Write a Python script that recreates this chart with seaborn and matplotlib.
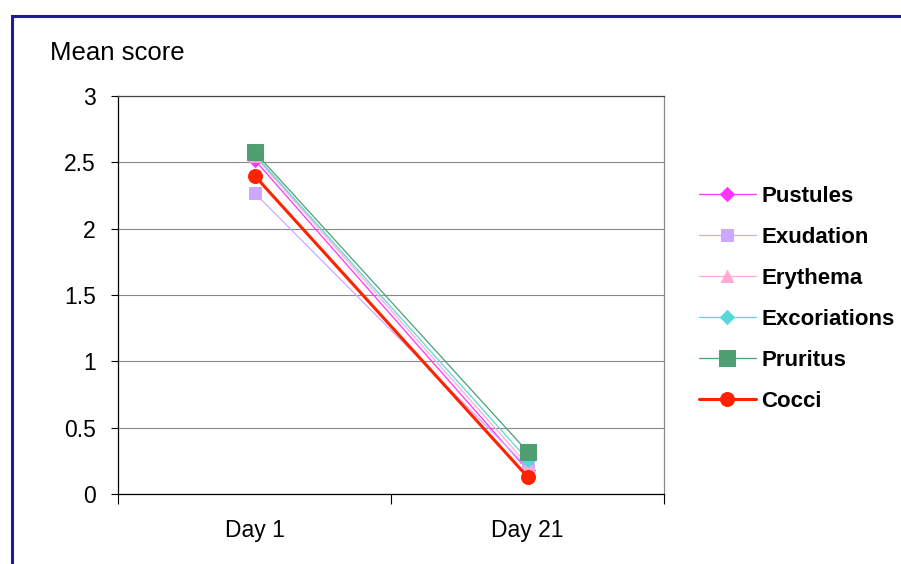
import matplotlib
matplotlib.use('Agg')
import matplotlib.pyplot as plt
import numpy as np
import pandas as pd
import seaborn as sns
from matplotlib.patches import Rectangle
from matplotlib.ticker import FixedLocator

sns.set_theme()
sns.set_style("white")
plt.rcParams['font.family'] = ['Liberation Sans', 'DejaVu Sans']
plt.rcParams['text.color'] = 'black'

days = ["Day 1", "Day 21"]
pustules = [2.52, 0.18]
exudation = [2.27, 0.20]
erythema = [2.55, 0.22]
excoriations = [2.56, 0.26]
pruritus = [2.58, 0.32]
cocci = [2.40, 0.13]

series = ["Pustules", "Exudation", "Erythema", "Excoriations", "Pruritus", "Cocci"]
values = [pustules, exudation, erythema, excoriations, pruritus, cocci]

y_ticks = [0, 0.5, 1, 1.5, 2, 2.5, 3]
y_labels = ['0', '0.5', '1', '1.5', '2', '2.5', '3']

styles = {
    "Pustules": dict(color='#FF33FF', marker='D', ms=7, lw=0.9),
    "Exudation": dict(color='#CCA8FF', marker='s', ms=8, lw=0.9),
    "Erythema": dict(color='#FFAAD4', marker='^', ms=9, lw=0.9),
    "Excoriations": dict(color='#55D8D8', marker='D', ms=7, lw=0.9),
    "Pruritus": dict(color='#4EA072', marker='s', ms=11.5, lw=0.9),
    "Cocci": dict(color='#FF2200', marker='o', ms=10, lw=2.2),
}

df = pd.DataFrame([(s, d, v) for s, vals in zip(series, values) for d, v in zip(days, vals)],
                  columns=['series', 'day', 'score'])

fig = plt.figure(figsize=(9.01, 5.64), dpi=100)
ax = fig.add_axes([118 / 901, 1 - 494 / 564, (664 - 118) / 901, (494 - 96) / 564])

for s in series:
    st = styles[s]
    sns.lineplot(data=df[df.series == s], x='day', y='score', ax=ax, color=st['color'],
                 marker=st['marker'], markersize=st['ms'], linewidth=st['lw'],
                 markeredgecolor=st['color'], label=s, sort=False)

ax.set_ylim(0, 3)
ax.set_xlim(-0.5, 1.5)
ax.set_yticks(y_ticks)
ax.set_yticklabels(y_labels)
ax.grid(axis='y', color='#888888', linewidth=0.8)
ax.set_axisbelow(True)
ax.xaxis.set_minor_locator(FixedLocator([-0.5, 0.5, 1.5]))
ax.tick_params(axis='x', which='major', length=0, pad=18, labelsize=16.5, labelcolor='black')
ax.tick_params(axis='x', which='minor', length=7, width=0.8, direction='out', bottom=True, color='black')
ax.tick_params(axis='y', which='major', length=5, width=0.8, direction='out', left=True, pad=11,
               labelsize=16.5, color='black', labelcolor='black')
ax.set_xlabel('')
ax.set_ylabel('')

ax.spines['top'].set_color('#444444')
ax.spines['right'].set_color('#888888')
for side in ['left', 'bottom']:
    ax.spines[side].set_color('black')
for side in ax.spines:
    ax.spines[side].set_linewidth(0.9)

ax.legend(loc='upper left', bbox_to_anchor=(690 / 901, 1 - 177 / 564), bbox_transform=fig.transFigure,
          frameon=False, prop={'weight': 'bold', 'size': 16}, handlelength=2.55, handletextpad=0.25,
          labelspacing=0.9, borderaxespad=0)

fig.text(50 / 901, 1 - 53 / 564, 'Mean score', fontsize=18.5, va='center', ha='left')

fig.patches.append(Rectangle((12 / 901, -0.1), 1.0, 1.1 - 16 / 564, transform=fig.transFigure,
                             fill=False, edgecolor='#1C1CA0', linewidth=2.2, clip_on=False))

fig.savefig('out.png', dpi=100)
